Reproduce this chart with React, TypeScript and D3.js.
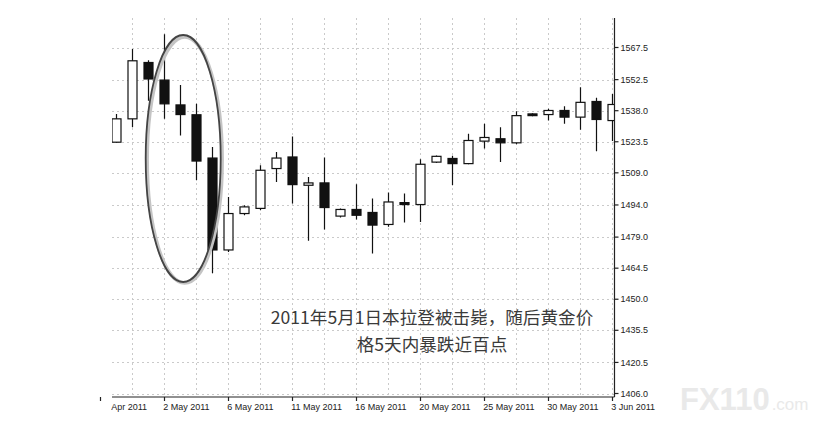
import { useEffect, useRef } from "react";
import * as d3 from "d3";

// every session on the x axis (Sunday bars included), 27 Apr is off the left edge
const sessions = [
  "27 Apr", "28 Apr", "29 Apr", "1 May", "2 May", "3 May", "4 May", "5 May", "6 May",
  "8 May", "9 May", "10 May", "11 May", "12 May", "13 May", "15 May", "16 May",
  "17 May", "18 May", "19 May", "20 May", "22 May", "23 May", "24 May", "25 May",
  "26 May", "27 May", "29 May", "30 May", "31 May", "1 Jun", "2 Jun", "3 Jun", "5 Jun",
];

const candleDates = sessions.slice(1);

const opens = [
  1523.3, 1534.2, 1560.5, 1552.3, 1540.7, 1536.1, 1515.9, 1473.0, 1490.0, 1492.4, 1511.0,
  1516.4, 1503.2, 1504.3, 1488.8, 1491.9, 1490.5, 1484.9, 1495.1, 1494.2, 1514.0, 1515.7,
  1513.3, 1523.8, 1524.9, 1523.0, 1536.5, 1536.2, 1538.1, 1535.0, 1542.3, 1533.4, 1540.9,
];
const highs = [
  1536.5, 1566.8, 1561.6, 1573.7, 1550.0, 1541.2, 1521.0, 1497.7, 1493.9, 1512.5, 1518.7,
  1526.0, 1507.0, 1516.1, 1492.3, 1503.7, 1497.0, 1499.8, 1499.3, 1515.3, 1517.1, 1517.0,
  1527.2, 1531.9, 1530.3, 1537.7, 1536.8, 1538.9, 1540.1, 1548.9, 1544.0, 1545.8, 1545.0,
];
const lows = [
  1523.0, 1530.3, 1542.7, 1534.2, 1526.4, 1505.5, 1462.1, 1472.0, 1489.2, 1491.5, 1504.7,
  1494.7, 1477.3, 1482.6, 1488.2, 1487.2, 1471.4, 1483.8, 1485.8, 1486.1, 1513.6, 1503.2,
  1513.0, 1520.3, 1514.0, 1522.3, 1535.4, 1533.4, 1531.9, 1529.1, 1519.1, 1523.8, 1540.0,
];
const closes = [
  1534.2, 1561.3, 1552.8, 1541.2, 1536.2, 1514.5, 1473.0, 1490.0, 1493.1, 1510.2, 1515.9,
  1503.5, 1504.3, 1492.8, 1491.9, 1489.2, 1484.6, 1495.4, 1494.2, 1513.0, 1516.7, 1513.3,
  1524.1, 1525.5, 1523.0, 1535.7, 1535.7, 1538.1, 1535.0, 1541.9, 1533.9, 1540.9, 1544.0,
];

const priceLabels = [
  "1567.5", "1552.5", "1538.0", "1523.5", "1509.0", "1494.0",
  "1479.0", "1464.5", "1450.0", "1435.5", "1420.5", "1406.0",
];

const dateLabels = [
  "27 Apr 2011", "2 May 2011", "6 May 2011", "11 May 2011", "16 May 2011",
  "20 May 2011", "25 May 2011", "30 May 2011", "3 Jun 2011",
];

const noteLines = ["2011年5月1日本拉登被击毙，随后黄金价", "格5天内暴跌近百点"];

const W = 817;
const H = 424;
const plotLeft = 112;
const plotRight = 614.5;
const plotTop = 18;
const plotBottom = 397;

const App = () => {
  const ref = useRef<SVGSVGElement>(null);

  useEffect(() => {
    if (!ref.current) return;
    const svg = d3.select(ref.current);
    svg.selectAll("*").remove();

    const x = d3.scalePoint<string>().domain(sessions).range([100.2, 628.2]);
    const y = d3.scaleLinear().domain([1406, 1567.5]).range([393.5, 47.5]);
    const bodyW = 9;

    const defs = svg.append("defs");
    defs
      .append("clipPath")
      .attr("id", "plot-clip")
      .append("rect")
      .attr("x", plotLeft)
      .attr("y", plotTop)
      .attr("width", plotRight - plotLeft)
      .attr("height", plotBottom - plotTop);
    defs
      .append("clipPath")
      .attr("id", "label-clip")
      .append("rect")
      .attr("x", plotLeft - 1)
      .attr("y", 398)
      .attr("width", W - plotLeft)
      .attr("height", 20);

    const plot = svg.append("g").attr("clip-path", "url(#plot-clip)");

    // grid
    const grid = plot
      .append("g")
      .attr("stroke", "#cacaca")
      .attr("stroke-width", 1)
      .attr("stroke-dasharray", "2,3");

    grid
      .selectAll("line.h")
      .data(priceLabels)
      .join("line")
      .attr("class", "h")
      .attr("x1", plotLeft)
      .attr("x2", plotRight)
      .attr("y1", (d) => Math.round(y(+d)) + 0.5)
      .attr("y2", (d) => Math.round(y(+d)) + 0.5);

    grid
      .selectAll("line.v")
      .data(sessions.filter((_, i) => i % 2 === 0))
      .join("line")
      .attr("class", "v")
      .attr("x1", (d) => Math.round(x(d)!) + 0.5)
      .attr("x2", (d) => Math.round(x(d)!) + 0.5)
      .attr("y1", plotTop)
      .attr("y2", plotBottom);

    // candles
    const candles = plot
      .selectAll("g.candle")
      .data(candleDates.map((d, i) => ({ d, o: opens[i], h: highs[i], l: lows[i], c: closes[i] })))
      .join("g")
      .attr("class", "candle");

    candles
      .append("line")
      .attr("x1", (d) => Math.round(x(d.d)!) + 0.5)
      .attr("x2", (d) => Math.round(x(d.d)!) + 0.5)
      .attr("y1", (d) => y(d.h))
      .attr("y2", (d) => y(d.l))
      .attr("stroke", "#111")
      .attr("stroke-width", 1.2);

    candles
      .append("rect")
      .attr("x", (d) => Math.round(x(d.d)!) - bodyW / 2 + 0.5)
      .attr("y", (d) => y(Math.max(d.o, d.c)))
      .attr("width", bodyW)
      .attr("height", (d) => Math.max(1.5, Math.abs(y(d.o) - y(d.c))))
      .attr("fill", (d) => (d.c >= d.o ? "#fff" : "#111"))
      .attr("stroke", "#111")
      .attr("stroke-width", 1.2);

    // axes lines and ticks
    const axisG = svg.append("g").attr("stroke", "#222").attr("stroke-width", 1.2);
    axisG
      .append("line")
      .attr("x1", plotRight)
      .attr("x2", plotRight)
      .attr("y1", plotTop)
      .attr("y2", plotBottom);
    axisG
      .append("line")
      .attr("x1", plotLeft)
      .attr("x2", plotRight)
      .attr("y1", plotBottom)
      .attr("y2", plotBottom);

    axisG
      .selectAll("line.yt")
      .data(priceLabels)
      .join("line")
      .attr("class", "yt")
      .attr("x1", plotRight)
      .attr("x2", plotRight + 4)
      .attr("y1", (d) => y(+d))
      .attr("y2", (d) => y(+d));

    svg
      .append("g")
      .selectAll("text")
      .data(priceLabels)
      .join("text")
      .attr("x", plotRight + 6)
      .attr("y", (d) => y(+d))
      .attr("dy", "0.35em")
      .attr("font-family", "'Liberation Sans', Arial, sans-serif")
      .attr("font-size", 9)
      .attr("fill", "#222")
      .text((d) => d);

    // bottom date axis
    const tickDates = sessions.filter((_, i) => i % 4 === 0);
    axisG
      .selectAll("line.xt")
      .data(tickDates)
      .join("line")
      .attr("class", "xt")
      .attr("x1", (d) => Math.round(x(d)!) + 0.5)
      .attr("x2", (d) => Math.round(x(d)!) + 0.5)
      .attr("y1", plotBottom)
      .attr("y2", plotBottom + 4);

    svg
      .append("g")
      .attr("clip-path", "url(#label-clip)")
      .selectAll("text")
      .data(tickDates)
      .join("text")
      .attr("x", (d) => x(d)! - 1)
      .attr("y", 410)
      .attr("font-family", "'Liberation Sans', Arial, sans-serif")
      .attr("font-size", 9)
      .attr("fill", "#222")
      .text((_, i) => dateLabels[i]);

    // circled drop
    const ex = x("3 May")! + 3;
    svg
      .append("ellipse")
      .attr("cx", ex + 1.5)
      .attr("cy", 160)
      .attr("rx", 37.5)
      .attr("ry", 123)
      .attr("fill", "none")
      .attr("stroke", "#c4c4c4")
      .attr("stroke-width", 3.5);
    svg
      .append("ellipse")
      .attr("cx", ex)
      .attr("cy", 158.5)
      .attr("rx", 37.5)
      .attr("ry", 123.5)
      .attr("fill", "none")
      .attr("stroke", "#444")
      .attr("stroke-width", 1.8);

    // note
    svg
      .append("g")
      .selectAll("text")
      .data(noteLines)
      .join("text")
      .attr("x", 432)
      .attr("y", (_, i) => 318 + i * 27)
      .attr("dy", "0.35em")
      .attr("text-anchor", "middle")
      .attr("font-family", "'Noto Sans CJK SC', sans-serif")
      .attr("font-size", 17.6)
      .attr("fill", "#3a3a3a")
      .text((d) => d);

    // watermark
    const wm = svg
      .append("text")
      .attr("x", 680)
      .attr("y", 410)
      .attr("font-family", "'Liberation Sans', Arial, sans-serif")
      .attr("fill", "#e9e9e9");
    wm.append("tspan").attr("font-size", 31).attr("font-weight", "bold").text("FX110");
    wm.append("tspan").attr("font-size", 17).attr("dx", 2).text(".com");
  }, []);

  return (
    <svg
      ref={ref}
      width={W}
      height={H}
      style={{ position: "absolute", left: 0, top: 0, background: "#fff" }}
    />
  );
};

export default App;
